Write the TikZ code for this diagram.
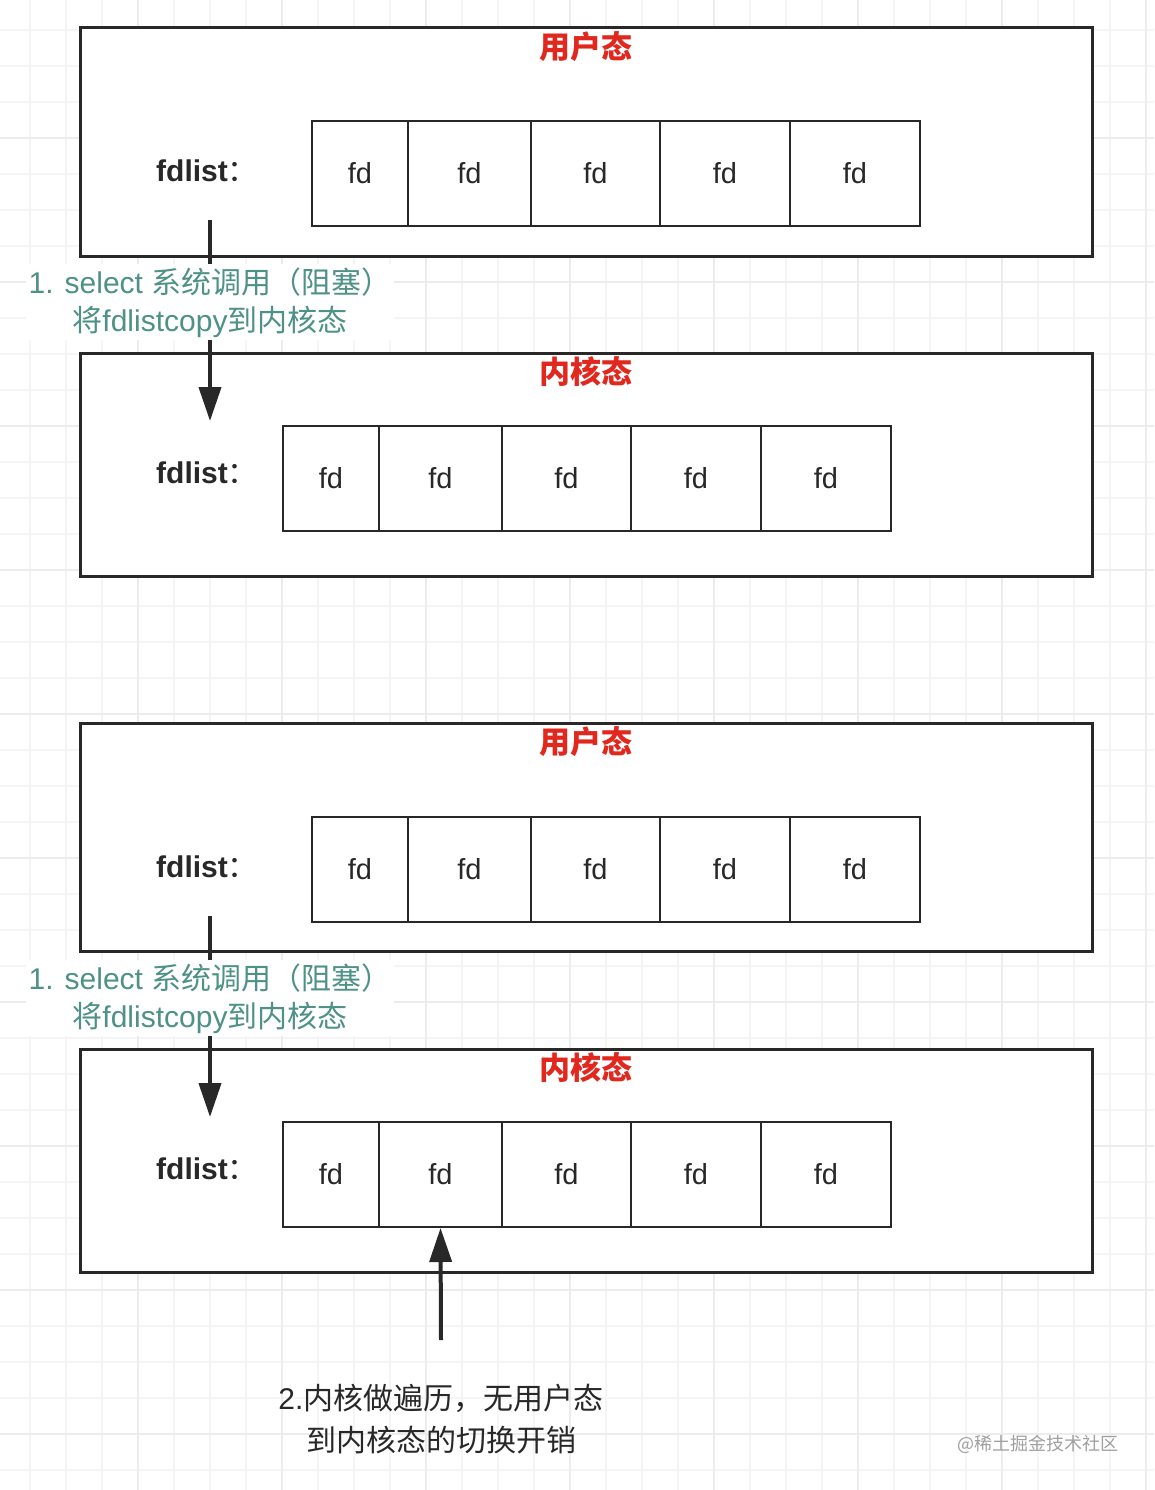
\documentclass[tikz,border=0pt]{standalone}
\usepackage{fontspec}
\setmainfont{Liberation Sans}
\newfontfamily\cjk{Noto Sans CJK SC}
\usetikzlibrary{arrows.meta, positioning, calc}

\definecolor{edge}{RGB}{40,40,40}
\definecolor{statered}{RGB}{225,40,30}
\definecolor{noteteal}{RGB}{78,145,135}
\definecolor{gridminor}{RGB}{245,245,245}
\definecolor{gridmajor}{RGB}{236,236,236}
\definecolor{markgray}{RGB}{160,160,160}

\begin{document}
\begin{tikzpicture}[
    x=1pt, y=-1pt,
    panel/.style={draw=edge, line width=3pt, fill=white, minimum width=1012pt, inner sep=0pt},
    cell/.style={draw=edge, line width=2pt, minimum height=105pt, inner sep=0pt, text=edge, font=\fontsize{29}{34}\selectfont},
    state/.style={inner sep=0pt, text=statered, font=\cjk\bfseries\fontsize{31}{36}\selectfont},
    listlabel/.style={anchor=base west, inner sep=0pt, text=edge, font=\bfseries\fontsize{30}{36}\selectfont},
    line/.style={draw=edge, line width=4pt, -{Triangle[width=22pt, length=34pt]}},
    note/.style={align=center, fill=white, inner sep=3pt, text=noteteal, font=\fontsize{30}{38}\selectfont},
    anno/.style={align=center, inner sep=3pt, text=edge, font=\fontsize{30}{42}\selectfont}
]
    \useasboundingbox (0,0) rectangle (1154,1490);
    \fill[white] (0,0) rectangle (1154,1490);

    % Grid
    \foreach \x in {30,66,...,1146} \draw[gridminor, line width=1.5pt] (\x,0) -- (\x,1490);
    \foreach \y in {30,66,...,1470} \draw[gridminor, line width=1.5pt] (0,\y) -- (1154,\y);
    \foreach \x in {138,282,...,1146} \draw[gridmajor, line width=1.5pt] (\x,0) -- (\x,1490);
    \foreach \y in {138,282,...,1470} \draw[gridmajor, line width=1.5pt] (0,\y) -- (1154,\y);

    % Panels
    \node[panel, minimum height=228pt] (user1) at (586,142) {};
    \node[panel, minimum height=223pt] (kern1) at (586,464.5) {};
    \node[panel, minimum height=228pt] (user2) at (586,837) {};
    \node[panel, minimum height=223pt] (kern2) at (586,1160.5) {};

    \node[state, below=5pt of user1.north] (user1-title) {用户态};
    \node[state, below=5pt of kern1.north] (kern1-title) {内核态};
    \node[state, below=5pt of user2.north] (user2-title) {用户态};
    \node[state, below=5pt of kern2.north] (kern2-title) {内核态};

    % fd cells
    \foreach \pn/\cy/\xs in {user1/173.5/312, kern1/478.5/283, user2/869.5/312, kern2/1174.5/283}
        \foreach \dx/\w [count=\i] in {48/96, 157.5/123, 283.5/129, 413/130, 543/130}
            \node[cell, minimum width=\w pt] (\pn-c\i) at (\xs+\dx,\cy) {fd};

    \foreach \pn/\by in {user1/182, kern1/483, user2/877, kern2/1179}
        \node[listlabel] (\pn-list) at (156,\by) {fdlist{\cjk\mdseries ：}};

    % Arrows
    \coordinate (copy1-s) at (210,220);
    \coordinate (copy1-e) at (210,421);
    \coordinate (copy2-s) at (210,916);
    \coordinate (copy2-e) at (210,1117);
    \coordinate (scan-s) at (441,1340);

    \path[line] (copy1-s) -- node[note, pos=0.41] (copy1-note) {1. select {\cjk 系统调用（阻塞）}\\{\cjk 将}fdlistcopy{\cjk 到内核态}} (copy1-e);
    \path[line] (copy2-s) -- node[note, pos=0.41] (copy2-note) {1. select {\cjk 系统调用（阻塞）}\\{\cjk 将}fdlistcopy{\cjk 到内核态}} (copy2-e);
    \path[line] (scan-s) -- (kern2-c2.south);

    \node[anno, below=41pt of scan-s] (scan-note) {2.{\cjk 内核做遍历，无用户态}\\{\cjk 到内核态的切换开销}};

    \node[text=markgray, font=\cjk\fontsize{18}{20}\selectfont] (mark) at (1038,1444) {@稀土掘金技术社区};
\end{tikzpicture}
\end{document}
